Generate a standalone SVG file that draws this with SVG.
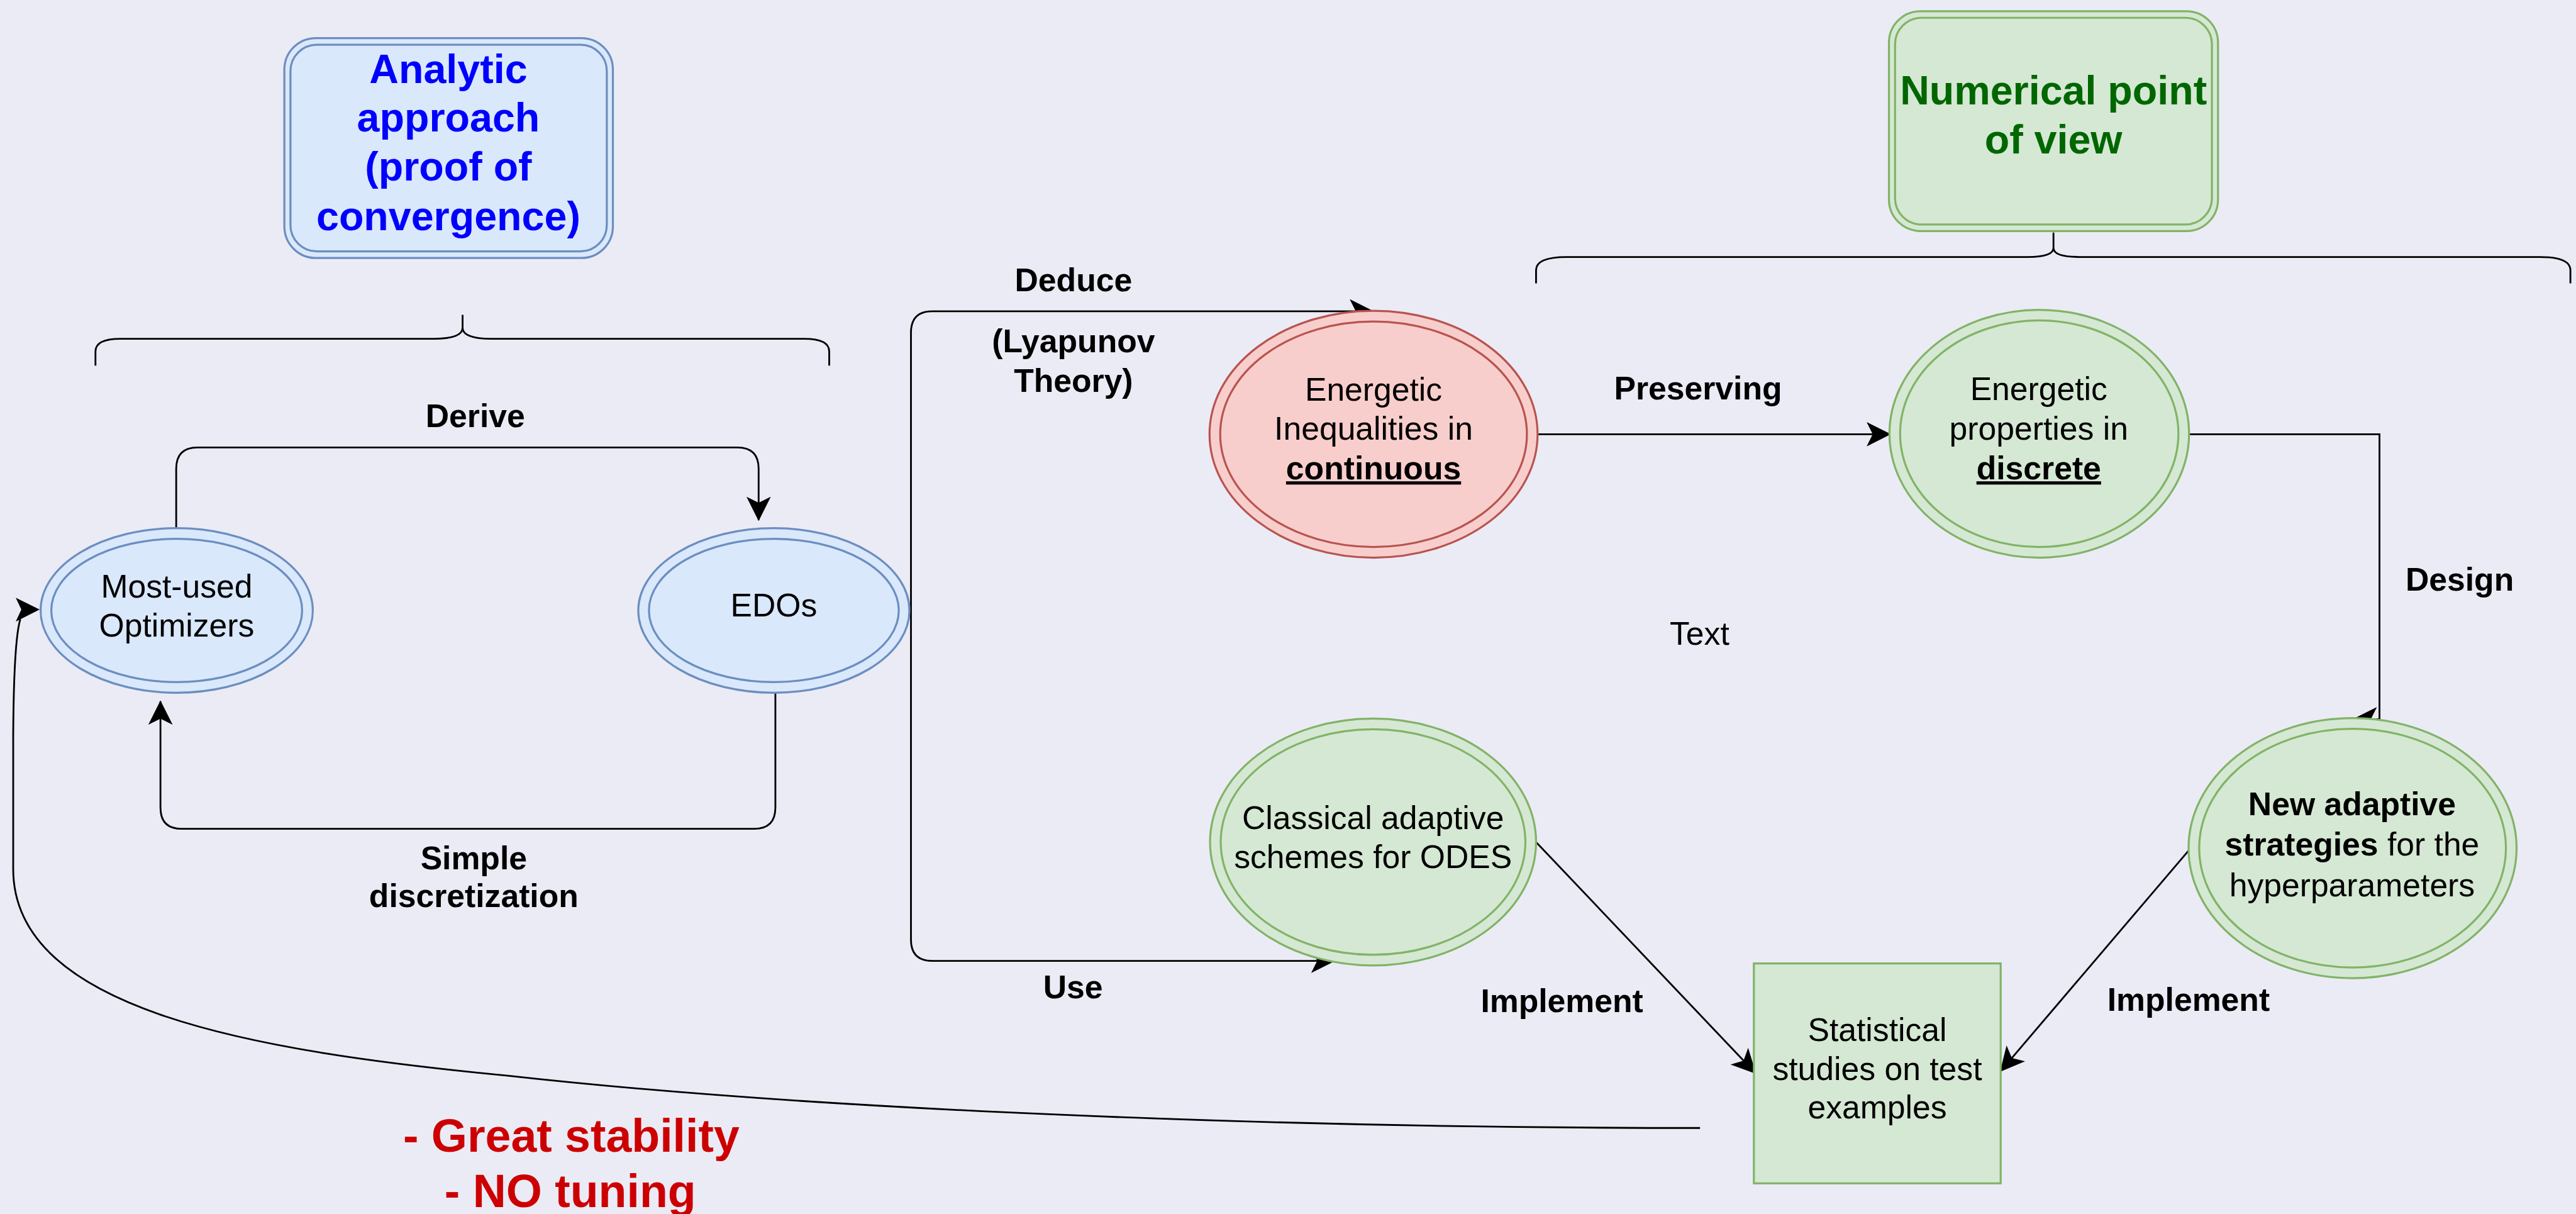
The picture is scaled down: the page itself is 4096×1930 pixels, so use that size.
<svg xmlns="http://www.w3.org/2000/svg" width="4096" height="1930" viewBox="0 0 4096 1930">
<style>
text{font-family:"Liberation Sans",Arial,Helvetica,sans-serif;font-size:64px;fill:#000;text-anchor:middle}
.b{font-weight:bold}
.big{font-size:80px;font-weight:bold}
.conn{fill:none;stroke:#000;stroke-width:3.5}
.blue{fill:#dae8fc;stroke:#6c8ebf;stroke-width:4}
.green{fill:#d5e8d4;stroke:#82b366;stroke-width:4}
.red{fill:#f8cecc;stroke:#b85450;stroke-width:4}
.inner{fill:none}
.brace{fill:none;stroke:#000;stroke-width:3.5}
</style>
<defs>
<marker id="ah" markerUnits="userSpaceOnUse" markerWidth="48" markerHeight="48" viewBox="0 0 48 48" refX="46" refY="24" orient="auto">
<path d="M0,0 L48,24 L0,48 L12,24 Z" fill="#000"/>
</marker>
</defs>
<rect x="0" y="0" width="4096" height="1930" fill="#ebebf6"/>
<g transform="scale(0.80741)">
<g id="analytic">
<rect class="blue" x="560" y="75" width="647" height="433" rx="62" ry="62"/>
<rect class="blue inner" x="572" y="88" width="623" height="407" rx="52" ry="52"/>
<text class="big" fill="#0000ff" style="fill:#0000ff" x="883" y="163">Analytic</text>
<text class="big" style="fill:#0000ff" x="883" y="259">approach</text>
<text class="big" style="fill:#0000ff" x="883" y="356">(proof of</text>
<text class="big" style="fill:#0000ff" x="883" y="453">convergence)</text>
</g>
<g id="numerical">
<rect class="green" x="3720" y="22" width="648" height="433" rx="62" ry="62"/>
<rect class="green inner" x="3732" y="35" width="624" height="407" rx="52" ry="52"/>
<text class="big" style="fill:#006600" x="4044" y="206">Numerical point</text>
<text class="big" style="fill:#006600" x="4044" y="302">of view</text>
</g>
<g id="brace-left">
<path class="brace" d="M188 720 L188 692 Q188 667 237 667 L855 667 Q911 667 911 645 L911 620 M911 645 Q911 667 967 667 L1584 667 Q1633 667 1633 692 L1633 720"/>
</g>
<g id="brace-right">
<path class="brace" d="M3025 558 L3025 532 Q3025 506 3085 506 L3993 506 Q4044 506 4044 488 L4044 458 M4044 488 Q4044 506 4095 506 L5002 506 Q5062 506 5062 532 L5062 558"/>
</g>
<g id="connectors">
<path class="conn" d="M347 1042 L347 923 Q347 881 389 881 L1452 881 Q1494 881 1494 923 L1494 1024" marker-end="url(#ah)"/>
<path class="conn" d="M1527 1365 L1527 1590 Q1527 1632 1485 1632 L358 1632 Q316 1632 316 1590 L316 1381" marker-end="url(#ah)"/>
<path class="conn" d="M1791 1202 L1794 1202 L1794 655 Q1794 613 1836 613 L2704 613" marker-end="url(#ah)"/>
<path class="conn" d="M1794 1202 L1794 1850 Q1794 1892 1836 1892 L2628 1892" marker-end="url(#ah)"/>
<path class="conn" d="M3029 855 L3722 855" marker-end="url(#ah)"/>
<path class="conn" d="M4311 855 L4686 855 L4686 1416 L4635 1416" marker-end="url(#ah)"/>
<path class="conn" d="M3025 1658 L3457 2113" marker-end="url(#ah)"/>
<path class="conn" d="M4310 1675 L3940 2109" marker-end="url(#ah)"/>
<path class="conn" d="M3348 2221 C2500 2221 1600 2185 1000 2118 C500 2070 26 1990 26 1711 L26 1450 Q27 1262 40 1219"/>
<polygon points="78,1200 31,1177 42,1200 31,1224" fill="#000"/>
<text class="b" x="936" y="841">Derive</text>
<text class="b" x="933" y="1712">Simple</text>
<text class="b" x="933" y="1786">discretization</text>
<text class="b" x="2114" y="573">Deduce</text>
<text class="b" x="2114" y="694">(Lyapunov</text>
<text class="b" x="2114" y="772">Theory)</text>
<text class="b" x="2113" y="1966">Use</text>
<text class="b" x="3344" y="786">Preserving</text>
<text class="b" x="4844" y="1163">Design</text>
<text class="b" x="3076" y="1993">Implement</text>
<text class="b" x="4310" y="1990">Implement</text>
</g>
<g id="most-used">
<ellipse class="blue" cx="348" cy="1202" rx="268" ry="162"/>
<ellipse class="blue inner" cx="348" cy="1202" rx="247" ry="141"/>
<text x="348" y="1176">Most-used</text>
<text x="348" y="1254">Optimizers</text>
</g>
<g id="edos">
<ellipse class="blue" cx="1524" cy="1202" rx="267" ry="162"/>
<ellipse class="blue inner" cx="1524" cy="1202" rx="246" ry="141"/>
<text x="1524" y="1214">EDOs</text>
</g>
<g id="energetic-continuous">
<ellipse class="red" cx="2705" cy="855" rx="323" ry="243"/>
<ellipse class="red inner" cx="2705" cy="855" rx="302" ry="222"/>
<text x="2705" y="789">Energetic</text>
<text x="2705" y="866">Inequalities in</text>
<text class="b" x="2705" y="944" text-decoration="underline">continuous</text>
</g>
<g id="energetic-discrete">
<ellipse class="green" cx="4016" cy="854" rx="295" ry="244"/>
<ellipse class="green inner" cx="4016" cy="854" rx="274" ry="223"/>
<text x="4015" y="788">Energetic</text>
<text x="4015" y="866">properties in</text>
<text class="b" x="4015" y="944" text-decoration="underline">discrete</text>
</g>
<g id="classical">
<ellipse class="green" cx="2704" cy="1658" rx="321" ry="243"/>
<ellipse class="green inner" cx="2704" cy="1658" rx="300" ry="222"/>
<text x="2704" y="1632">Classical adaptive</text>
<text x="2704" y="1709">schemes for ODES</text>
</g>
<g id="new-adaptive">
<ellipse class="green" cx="4633" cy="1670" rx="323" ry="256"/>
<ellipse class="green inner" cx="4633" cy="1670" rx="302" ry="235"/>
<text class="b" x="4632" y="1605">New adaptive</text>
<text x="4632" y="1685"><tspan font-weight="bold">strategies</tspan> for the</text>
<text x="4632" y="1765">hyperparameters</text>
</g>
<g id="statistical">
<rect class="green" x="3454" y="1897" width="486" height="433"/>
<text x="3697" y="2050">Statistical</text>
<text x="3697" y="2127">studies on test</text>
<text x="3697" y="2202">examples</text>
</g>
<g id="text-label">
<text x="3347" y="1270">Text</text>
</g>
<g id="benefits">
<text class="b" style="fill:#cc0000;font-size:91px" x="1125" y="2268">- Great stability</text>
<text class="b" style="fill:#cc0000;font-size:91px" x="1123" y="2377">- NO tuning</text>
</g>
</g>
</svg>
